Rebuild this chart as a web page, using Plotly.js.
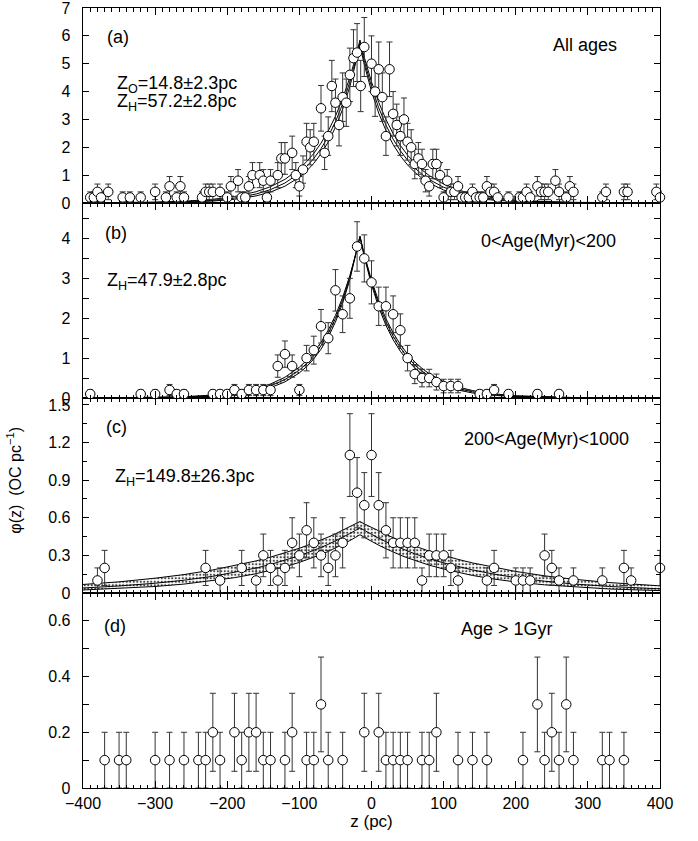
<!DOCTYPE html>
<html>
<head>
<meta charset="utf-8">
<script src="https://cdn.plot.ly/plotly-3.0.1.min.js"></script>
<style>html,body{margin:0;padding:0;background:#fff;}#chart{width:698px;height:841px;}</style>
</head>
<body>
<div id="chart"></div>
<script>
// ---------- Data: panel (a) All ages ----------
const A_Z = [-390,-385,-380,-375,-365,-345,-335,-320,-300,-285,-280,-270,-265,-260,-235,-230,-225,-220,-210,-200,-195,-185,-180,-175,-170,-165,-155,-150,-145,-140,-130,-125,-120,-110,-105,-100,-95,-90,-85,-80,-70,-65,-60,-55,-50,-45,-40,-35,-30,-25,-20,-15,-10,0,5,10,15,20,25,30,35,40,45,50,55,60,65,70,75,80,85,90,95,100,105,110,115,120,125,130,135,140,145,150,155,160,165,170,175,190,205,210,215,220,230,235,240,245,255,260,270,275,280,320,325,350,355,395,400];
const A_PHI = [0.2,0.2,0.4,0.2,0.4,0.2,0.2,0.2,0.4,0.2,0.6,0.2,0.6,0.2,0.2,0.4,0.4,0.4,0.4,0.2,0.6,0.8,0.2,0.2,0.6,1.0,1.0,0.8,0.2,0.8,1.0,1.6,1.6,1.8,1.0,0.6,1.2,2.2,2.0,2.2,3.4,1.8,2.4,4.2,3.6,2.8,3.8,3.6,4.6,5.2,5.4,4.2,5.6,5.0,4.0,4.8,3.8,2.4,4.8,3.2,2.8,2.4,3.0,2.2,2.0,1.4,1.6,1.4,0.8,0.6,1.4,1.4,1.0,0.2,0.8,0.4,0.4,0.6,0.2,0.2,0.2,0.4,0.2,0.2,0.2,0.6,0.4,0.4,0.2,0.2,0.2,0.2,0.4,0.2,0.6,0.4,0.4,0.4,0.8,0.4,0.2,0.6,0.4,0.2,0.4,0.4,0.4,0.4,0.2];
const A_ERR = [0.20,0.20,0.28,0.20,0.28,0.20,0.20,0.20,0.28,0.20,0.35,0.20,0.35,0.20,0.20,0.28,0.28,0.28,0.28,0.20,0.35,0.40,0.20,0.20,0.35,0.45,0.45,0.40,0.20,0.40,0.45,0.57,0.57,0.60,0.45,0.35,0.49,0.66,0.63,0.66,0.82,0.60,0.69,0.92,0.85,0.75,0.87,0.85,0.96,1.02,1.04,0.92,1.06,1.00,0.89,0.98,0.87,0.69,0.98,0.80,0.75,0.69,0.77,0.66,0.63,0.53,0.57,0.53,0.40,0.35,0.53,0.53,0.45,0.20,0.40,0.28,0.28,0.35,0.20,0.20,0.20,0.28,0.20,0.20,0.20,0.35,0.28,0.28,0.20,0.20,0.20,0.20,0.28,0.20,0.35,0.28,0.28,0.28,0.40,0.28,0.20,0.35,0.28,0.20,0.28,0.28,0.28,0.28,0.20];

// ---------- Data: panel (b) 0<Age<200 Myr ----------
const B_Z = [-390,-320,-300,-280,-270,-260,-220,-210,-200,-190,-180,-170,-160,-150,-140,-130,-120,-110,-100,-90,-80,-70,-60,-50,-40,-30,-20,-10,0,10,20,30,40,50,60,70,80,90,100,110,120,150,160,170,190,230,260];
const B_PHI = [0.1,0.1,0.1,0.2,0.1,0.1,0.1,0.1,0.1,0.2,0.1,0.2,0.2,0.2,0.2,0.8,1.1,0.8,0.2,1.0,1.2,1.8,1.5,2.7,2.1,2.5,3.8,3.5,2.9,2.3,2.3,2.1,1.7,1.0,0.6,0.5,0.5,0.4,0.3,0.3,0.3,0.1,0.1,0.2,0.1,0.1,0.1];
const B_ERR = [0.10,0.10,0.10,0.14,0.10,0.10,0.10,0.10,0.10,0.14,0.10,0.14,0.14,0.14,0.14,0.28,0.33,0.28,0.14,0.32,0.35,0.42,0.39,0.52,0.46,0.50,0.62,0.59,0.54,0.48,0.48,0.46,0.41,0.32,0.24,0.22,0.22,0.20,0.17,0.17,0.17,0.10,0.10,0.14,0.10,0.10,0.10];

// ---------- Data: panel (c) 200<Age<1000 Myr ----------
const C_Z = [-380,-370,-230,-210,-180,-160,-150,-140,-130,-120,-110,-100,-90,-80,-70,-60,-50,-40,-30,-20,-10,0,10,20,30,40,50,60,70,80,90,100,110,120,160,170,200,210,220,240,250,260,280,320,350,360,400];
const C_PHI = [0.1,0.2,0.2,0.1,0.2,0.1,0.3,0.2,0.1,0.2,0.4,0.3,0.5,0.4,0.3,0.2,0.3,0.4,1.1,0.8,0.7,1.1,0.7,0.5,0.4,0.4,0.4,0.4,0.1,0.3,0.3,0.3,0.2,0.1,0.1,0.2,0.1,0.1,0.1,0.3,0.2,0.1,0.1,0.1,0.2,0.1,0.2];
const C_ERR = [0.10,0.14,0.14,0.10,0.14,0.10,0.17,0.14,0.10,0.14,0.20,0.17,0.22,0.20,0.17,0.14,0.17,0.20,0.33,0.28,0.26,0.33,0.26,0.22,0.20,0.20,0.20,0.20,0.10,0.17,0.17,0.17,0.14,0.10,0.10,0.14,0.10,0.10,0.10,0.17,0.14,0.10,0.10,0.10,0.14,0.10,0.14];

// ---------- Data: panel (d) Age > 1 Gyr ----------
const D_Z = [-370,-350,-340,-300,-280,-260,-240,-230,-220,-210,-190,-180,-170,-160,-150,-140,-120,-110,-90,-80,-70,-60,-40,-10,10,20,30,40,50,70,80,90,120,140,160,210,230,240,250,260,270,280,320,330,350];
const D_PHI = [0.1,0.1,0.1,0.1,0.1,0.1,0.1,0.1,0.2,0.1,0.2,0.1,0.2,0.2,0.1,0.1,0.1,0.2,0.1,0.1,0.3,0.1,0.1,0.2,0.2,0.1,0.1,0.1,0.1,0.1,0.1,0.2,0.1,0.1,0.1,0.1,0.3,0.1,0.2,0.1,0.3,0.1,0.1,0.1,0.1];
const D_ERR = [0.10,0.10,0.10,0.10,0.10,0.10,0.10,0.10,0.14,0.10,0.14,0.10,0.14,0.14,0.10,0.10,0.10,0.14,0.10,0.10,0.17,0.10,0.10,0.14,0.14,0.10,0.10,0.10,0.10,0.10,0.10,0.14,0.10,0.10,0.10,0.10,0.17,0.10,0.14,0.10,0.17,0.10,0.10,0.10,0.10];

// ---------- Fitted profiles ----------
const CURVE_Z = [-400,-350,-300,-260,-220,-190,-160,-140,-120,-100,-90,-80,-70,-60,-50,-40,-30,-22,-16,-10,0,10,20,30,40,50,60,70,80,100,120,140,170,200,240,280,330,400];
const A_FIT = [0.003,0.007,0.020,0.044,0.097,0.177,0.323,0.481,0.718,1.072,1.309,1.598,1.953,2.385,2.913,3.558,4.346,5.10,5.75,5.10,4.175,3.418,2.799,2.292,1.876,1.536,1.258,1.030,0.843,0.565,0.379,0.254,0.139,0.076,0.034,0.016,0.006,0.001];
const A_FIT_UP = [0.005,0.012,0.030,0.064,0.133,0.232,0.405,0.586,0.849,1.231,1.483,1.782,2.148,2.585,3.114,3.750,4.511,5.23,5.85,5.23,4.346,3.613,3.000,2.491,2.069,1.717,1.429,1.187,0.985,0.680,0.470,0.324,0.186,0.106,0.050,0.024,0.010,0.003];
const A_FIT_LO = [0.002,0.004,0.013,0.030,0.070,0.134,0.255,0.392,0.603,0.927,1.148,1.425,1.767,2.189,2.718,3.369,4.181,4.97,5.65,4.97,4.004,3.226,2.603,2.099,1.692,1.366,1.101,0.888,0.717,0.466,0.303,0.197,0.103,0.054,0.023,0.010,0.003,0.001];
const B_FIT = [0.001,0.004,0.011,0.025,0.057,0.107,0.200,0.304,0.462,0.701,0.864,1.065,1.312,1.616,1.991,2.454,3.023,3.573,4.05,3.573,2.900,2.354,1.910,1.550,1.258,1.021,0.829,0.673,0.546,0.360,0.237,0.156,0.083,0.045,0.019,0.008,0.003,0.001];
const B_FIT_UP = [0.002,0.006,0.015,0.033,0.073,0.131,0.236,0.351,0.521,0.773,0.941,1.147,1.396,1.700,2.071,2.523,3.071,3.598,4.05,3.598,2.955,2.425,1.990,1.634,1.342,1.102,0.905,0.743,0.610,0.411,0.277,0.187,0.103,0.057,0.026,0.012,0.005,0.001];
const B_FIT_LO = [0.001,0.003,0.008,0.018,0.044,0.085,0.166,0.259,0.404,0.629,0.785,0.980,1.223,1.526,1.905,2.378,2.969,3.544,4.05,3.544,2.839,2.276,1.822,1.460,1.170,0.937,0.751,0.602,0.482,0.310,0.199,0.127,0.066,0.034,0.014,0.006,0.002,0.000];
const C_FIT = [0.040,0.056,0.078,0.102,0.133,0.163,0.199,0.228,0.260,0.297,0.318,0.339,0.363,0.388,0.415,0.443,0.474,0.500,0.520,0.500,0.467,0.437,0.409,0.383,0.358,0.335,0.313,0.293,0.274,0.240,0.210,0.184,0.150,0.123,0.094,0.072,0.052,0.033];
const C_FIT_UP = [0.068,0.089,0.118,0.147,0.184,0.217,0.256,0.286,0.320,0.357,0.378,0.399,0.422,0.446,0.472,0.499,0.527,0.551,0.570,0.551,0.522,0.493,0.467,0.441,0.418,0.395,0.374,0.354,0.334,0.299,0.268,0.240,0.203,0.172,0.137,0.110,0.083,0.057];
const C_FIT_LO = [0.024,0.036,0.052,0.071,0.097,0.122,0.154,0.179,0.209,0.244,0.263,0.284,0.307,0.331,0.358,0.387,0.418,0.444,0.465,0.444,0.411,0.381,0.353,0.326,0.302,0.280,0.259,0.240,0.222,0.191,0.163,0.140,0.111,0.088,0.065,0.048,0.032,0.019];

// ---------- Tick / label texts ----------
const X_TITLE = 'z (pc)';
const Y_TITLE = 'φ(z)  (OC pc<sup>−1</sup>)';
const LABELS = {
  a: ['(a)', 'All ages', 'Z<sub>O</sub>=14.8±2.3pc', 'Z<sub>H</sub>=57.2±2.8pc'],
  b: ['(b)', '0<Age(Myr)<200', 'Z<sub>H</sub>=47.9±2.8pc'],
  c: ['(c)', '200<Age(Myr)<1000', 'Z<sub>H</sub>=149.8±26.3pc'],
  d: ['(d)', 'Age > 1Gyr']
};

// ---------- Build ----------
const FONT = '"Liberation Sans", Arial, Helvetica, sans-serif';
const LINE = {color: '#000', width: 1};
const PATTERN = {shape: '.', fgcolor: '#444', bgcolor: '#fff', size: 3.5, solidity: 0.3};

function band(xa, ya, lo, mid, up, stipple) {
  const base = {x: CURVE_Z, xaxis: xa, yaxis: ya, mode: 'lines', line: LINE, hoverinfo: 'skip'};
  const upper = Object.assign({}, base, {y: up});
  if (stipple) { upper.fill = 'tonexty'; upper.fillcolor = '#fff'; upper.fillpattern = PATTERN; }
  return [Object.assign({}, base, {y: lo}), upper, Object.assign({}, base, {y: mid})];
}
function pts(xa, ya, z, phi, err) {
  return {x: z, y: phi, xaxis: xa, yaxis: ya, mode: 'markers', cliponaxis: false,
    marker: {symbol: 'circle', size: 9.5, color: '#fff', line: {color: '#000', width: 1}},
    error_y: {type: 'data', array: err, visible: true, color: '#333', thickness: 1, width: 3}};
}

const data = [].concat(
  band('x4', 'y4', A_FIT_LO, A_FIT, A_FIT_UP, false), [pts('x4', 'y4', A_Z, A_PHI, A_ERR)],
  band('x3', 'y3', B_FIT_LO, B_FIT, B_FIT_UP, true), [pts('x3', 'y3', B_Z, B_PHI, B_ERR)],
  band('x2', 'y2', C_FIT_LO, C_FIT, C_FIT_UP, true), [pts('x2', 'y2', C_Z, C_PHI, C_ERR)],
  [pts('x', 'y', D_Z, D_PHI, D_ERR)]
);

const XBASE = {range: [-400, 400], tick0: 0, dtick: 100, ticks: 'inside', ticklen: 7, tickwidth: 1, tickcolor: '#000',
  minor: {dtick: 10, ticks: 'inside', ticklen: 3.5, tickwidth: 1, tickcolor: '#000'},
  showline: true, linecolor: '#000', linewidth: 1.3, mirror: 'ticks', showgrid: false, zeroline: false,
  ticklabeloverflow: 'allow', tickfont: {size: 16, family: FONT}};
const YBASE = {ticks: 'inside', ticklen: 6, tickwidth: 1, tickcolor: '#000', showline: true, linecolor: '#000', linewidth: 1.3,
  mirror: 'ticks', showgrid: false, zeroline: false, tick0: 0, ticklabelstandoff: 8, ticklabeloverflow: 'allow',
  tickfont: {size: 16, family: FONT}};
function mk(base, extra) { return Object.assign({}, base, extra); }

const ann = [];
function txt(xa, ya, x, y, t, anchor, size) {
  ann.push({xref: xa, yref: ya, x: x, y: y, text: t, showarrow: false, xanchor: anchor || 'center', yanchor: 'middle',
    font: {size: size || 18, family: FONT, color: '#000'}});
}
txt('x4', 'y4', -351, 5.96, LABELS.a[0]);
txt('x4', 'y4', 296, 5.67, LABELS.a[1]);
txt('x4', 'y4', -355, 4.26, LABELS.a[2], 'left');
txt('x4', 'y4', -355, 3.60, LABELS.a[3], 'left');
txt('x3', 'y3', -354, 4.14, LABELS.b[0]);
txt('x3', 'y3', 245, 3.93, LABELS.b[1]);
txt('x3', 'y3', -370, 2.91, LABELS.b[2], 'left');
txt('x2', 'y2', -353, 1.32, LABELS.c[0]);
txt('x2', 'y2', 243, 1.23, LABELS.c[1]);
txt('x2', 'y2', -359, 0.92, LABELS.c[2], 'left');
txt('x', 'y', -355, 0.58, LABELS.d[0]);
txt('x', 'y', 188, 0.57, LABELS.d[1]);
ann.push({xref: 'paper', yref: 'paper', x: -0.12, y: 0.395, text: Y_TITLE, textangle: -90, showarrow: false,
  xanchor: 'center', yanchor: 'middle', font: {size: 16, family: FONT, color: '#000'}});

const layout = {
  width: 698, height: 841, margin: {l: 83, r: 38, t: 8, b: 53},
  paper_bgcolor: '#fff', plot_bgcolor: '#fff', showlegend: false,
  font: {family: FONT, size: 16, color: '#000'},
  xaxis: mk(XBASE, {anchor: 'y', showticklabels: true, title: {text: X_TITLE, font: {size: 17, family: FONT}, standoff: 4}}),
  xaxis2: mk(XBASE, {anchor: 'y2', showticklabels: false}),
  xaxis3: mk(XBASE, {anchor: 'y3', showticklabels: false}),
  xaxis4: mk(XBASE, {anchor: 'y4', showticklabels: false}),
  yaxis: mk(YBASE, {anchor: 'x', domain: [0, 0.25], range: [0, 0.7], dtick: 0.2,
    minor: {dtick: 0.1, ticks: 'inside', ticklen: 6, tickcolor: '#000'}}),
  yaxis2: mk(YBASE, {anchor: 'x2', domain: [0.25, 0.5], range: [0, 1.555], dtick: 0.3,
    minor: {dtick: 0.15, ticks: 'inside', ticklen: 4, tickcolor: '#000'}}),
  yaxis3: mk(YBASE, {anchor: 'x3', domain: [0.5, 0.75], range: [0, 4.89], dtick: 1,
    minor: {dtick: 0.5, ticks: 'inside', ticklen: 6, tickcolor: '#000'}}),
  yaxis4: mk(YBASE, {anchor: 'x4', domain: [0.75, 1], range: [0, 7], dtick: 1}),
  annotations: ann
};

Plotly.newPlot('chart', data, layout, {staticPlot: true, displayModeBar: false});
</script>
</body>
</html>
